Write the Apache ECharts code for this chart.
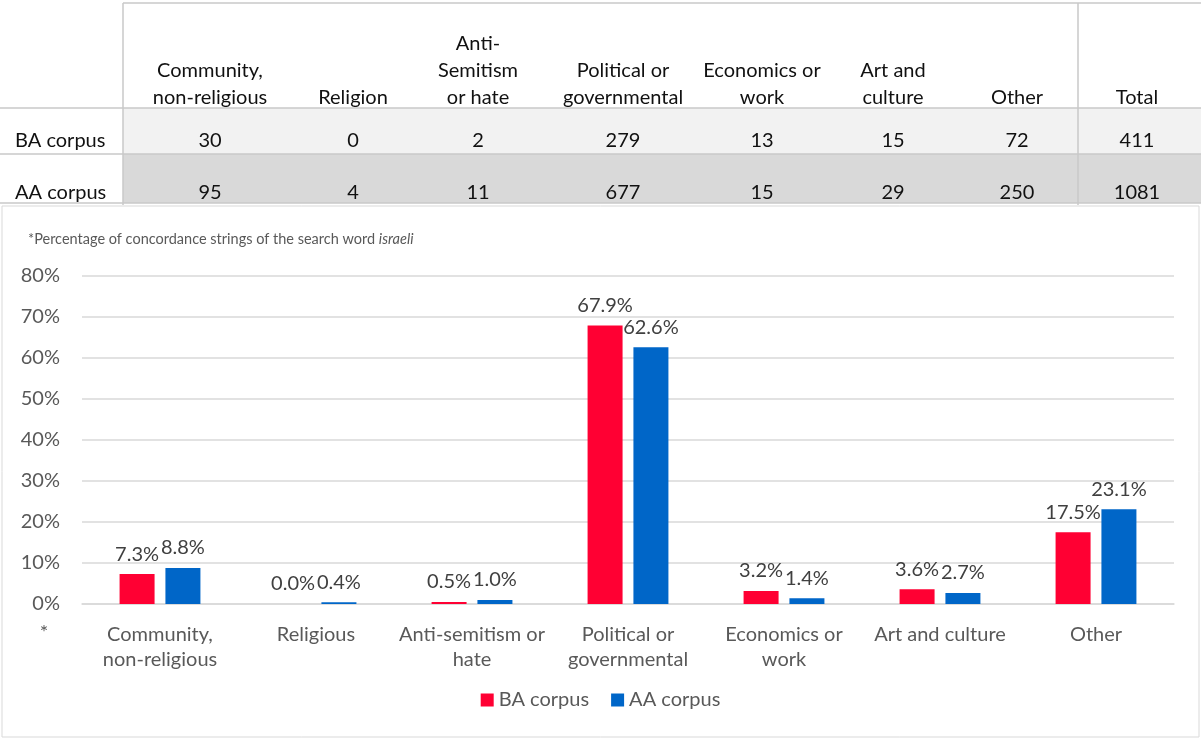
<!DOCTYPE html>
<html><head><meta charset="utf-8">
<script src="https://cdn.jsdelivr.net/npm/echarts@6/dist/echarts.min.js"></script>
<style>html,body{margin:0;padding:0;background:#fff}#c{width:1201px;height:739px}</style>
</head><body><div id="c"></div>
<script>
// ---- data ----
var tableHeaders = ['Community,\nnon-religious', 'Religion', 'Anti-\nSemitism\nor hate', 'Political or\ngovernmental', 'Economics or\nwork', 'Art and\nculture', 'Other', 'Total'];
var rowLabels = ['BA corpus', 'AA corpus'];
var baCounts = [30, 0, 2, 279, 13, 15, 72, 411];
var aaCounts = [95, 4, 11, 677, 15, 29, 250, 1081];
var categories = ['Community,\nnon-religious', 'Religious', 'Anti-semitism or\nhate', 'Political or\ngovernmental', 'Economics or\nwork', 'Art and culture', 'Other'];
var baPercent = [7.3, 0.0, 0.5, 67.9, 3.2, 3.6, 17.5];
var aaPercent = [8.8, 0.4, 1.0, 62.6, 1.4, 2.7, 23.1];
var yTicks = [0, 10, 20, 30, 40, 50, 60, 70, 80];

var FONT = 'Lato';
var FS = 20;
var colX = [210, 353, 478, 623, 762, 893, 1017, 1137];
var g = [];
// row backgrounds
g.push({type:'rect', shape:{x:123,y:108,width:1078,height:46}, style:{fill:'#f2f2f2'}, silent:true});
g.push({type:'rect', shape:{x:123,y:154,width:1078,height:49}, style:{fill:'#d9d9d9'}, silent:true});
// lines
var lc = '#c8c8c8';
function line(x1,y1,x2,y2){g.push({type:'line', shape:{x1:x1,y1:y1,x2:x2,y2:y2}, style:{stroke:lc,lineWidth:1.5}, silent:true});}
line(123,3,1201,3); line(123,3,123,205); line(1078,3,1078,205);
line(0,108,1201,108); line(0,154,1201,154); line(0,203,1201,203);
// headers
tableHeaders.forEach(function(h,i){
  g.push({type:'text', x:colX[i], y:111, style:{text:h, font:FS+'px '+FONT, fill:'#111', textAlign:'center', textVerticalAlign:'bottom', lineHeight:27, padding:[0,0,0,0]}});
});
var rows = [baCounts, aaCounts];
var rowY = [141, 193];
rows.forEach(function(r,ri){
  g.push({type:'text', x:15, y:rowY[ri], style:{text:rowLabels[ri], font:FS+'px '+FONT, fill:'#111', textAlign:'left', textVerticalAlign:'middle'}});
  r.forEach(function(v,i){
    g.push({type:'text', x:colX[i], y:rowY[ri], style:{text:String(v), font:FS+'px '+FONT, fill:'#111', textAlign:'center', textVerticalAlign:'middle'}});
  });
});
// chart frame
g.push({type:'rect', shape:{x:2,y:206,width:1197,height:531}, style:{fill:'none',stroke:'#d9d9d9',lineWidth:1}, silent:true, z:-1});
// footnote
g.push({type:'text', x:28, y:239, style:{text:'{n|*Percentage of concordance strings of the search word }{i|israeli}', textVerticalAlign:'middle', rich:{n:{font:'14.5px '+FONT, fill:'#595959'}, i:{font:'italic 14.5px '+FONT, fill:'#595959'}}}});
g.push({type:'text', x:44, y:633, style:{text:'*', font:FS+'px '+FONT, fill:'#595959', textAlign:'center', textVerticalAlign:'middle'}});

var chart = echarts.init(document.getElementById('c'));
var lbl = {show:true, position:'top', distance:10, color:'#404040', fontFamily:FONT, fontSize:FS, formatter:function(p){return p.value.toFixed(1)+'%';}};
chart.setOption({
  animation:false,
  textStyle:{fontFamily:FONT},
  graphic:g,
  grid:{left:82, right:27, top:276, bottom:135},
  legend:{bottom:24, left:'center', itemWidth:13, itemHeight:13, itemGap:22, icon:'rect', textStyle:{fontSize:FS, color:'#595959', fontFamily:FONT}, data:['BA corpus','AA corpus']},
  xAxis:{type:'category', data:categories, axisLine:{lineStyle:{color:'#d9d9d9', width:1.5}}, axisTick:{show:false}, axisLabel:{interval:0, color:'#595959', fontSize:FS, lineHeight:25, margin:18, fontFamily:FONT}},
  yAxis:{type:'value', min:0, max:80, interval:10, axisLine:{show:false}, axisTick:{show:false}, splitLine:{lineStyle:{color:'#d9d9d9', width:1.5}}, axisLabel:{color:'#595959', fontSize:FS, margin:22, fontFamily:FONT, formatter:function(v){return yTicks.indexOf(v)>=0? v+'%':'';}}},
  series:[
    {name:'BA corpus', type:'bar', data:baPercent, barWidth:35, barGap:'31%', itemStyle:{color:'#FF0033'}, label:lbl},
    {name:'AA corpus', type:'bar', data:aaPercent, barWidth:35, itemStyle:{color:'#0066C8'}, label:lbl}
  ]
});
</script></body></html>
